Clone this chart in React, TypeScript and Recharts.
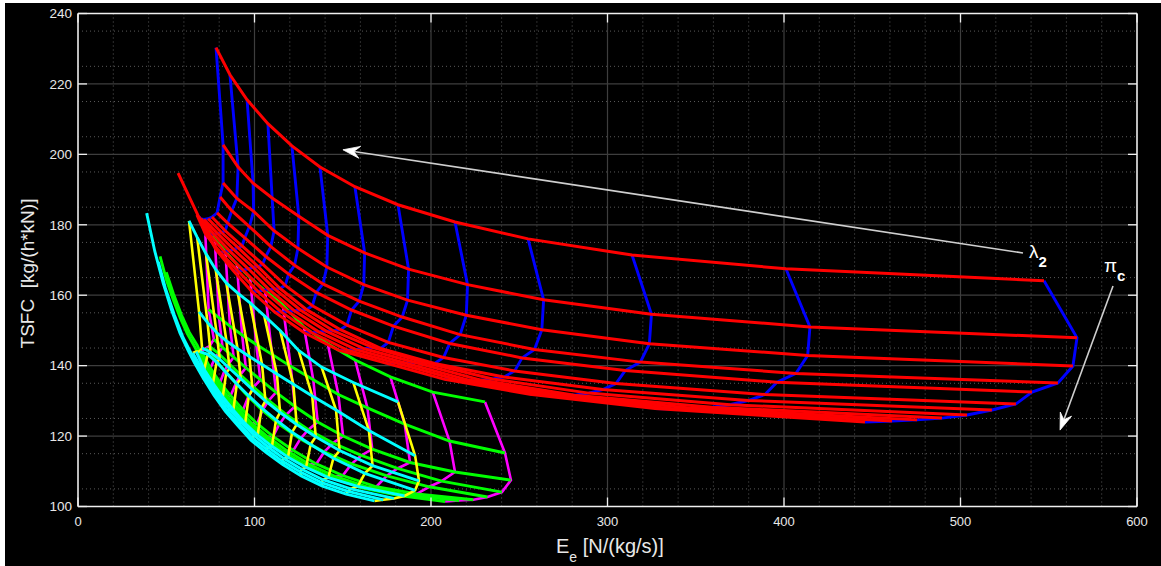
import React from "react";
import { LineChart, Line, XAxis, YAxis, CartesianGrid, ReferenceLine } from "recharts";

// axes
const xTicks = [0, 100, 200, 300, 400, 500, 600];
const yTicks = [100, 120, 140, 160, 180, 200, 220, 240];
const xMinor = [20, 40, 60, 80, 120, 140, 160, 180, 220, 240, 260, 280, 320, 340, 360, 380, 420, 440, 460, 480, 520, 540, 560, 580];
const yMinor = [105, 110, 115, 125, 130, 135, 145, 150, 155, 165, 170, 175, 185, 190, 195, 205, 210, 215, 225, 230, 235];

// upper carpet: red rows (lambda2), blue columns (pi_c) -- specific thrust E
const redE = [
  [78.2, 86.1, 95.8, 107.6, 121.2, 137.1, 156.9, 181.3, 213.6, 255.0, 313.9, 401.1, 547.3],
  [82.2, 90.7, 99.2, 110.0, 125.1, 141.5, 162.4, 187.3, 220.7, 263.8, 324.9, 414.7, 566.0],
  [82.2, 90.0, 99.5, 111.1, 124.6, 141.0, 161.9, 186.7, 220.0, 262.8, 323.7, 413.4, 563.7],
  [80.5, 87.1, 97.1, 109.3, 122.7, 138.8, 159.3, 183.7, 216.5, 258.6, 318.6, 406.8, 555.2],
  [78.8, 84.8, 94.5, 106.4, 119.3, 135.0, 155.0, 178.7, 210.6, 251.6, 310.0, 396.0, 540.5],
  [75.9, 83.4, 92.9, 104.6, 117.4, 132.8, 152.4, 175.8, 207.1, 247.4, 304.8, 389.2, 531.4],
  [73.7, 81.3, 90.7, 102.0, 114.5, 129.5, 148.7, 171.5, 202.0, 241.4, 297.3, 379.7, 517.8],
  [71.4, 79.1, 88.2, 99.3, 111.4, 126.0, 144.6, 166.8, 196.6, 234.9, 289.3, 369.4, 503.7],
  [69.7, 76.9, 85.8, 96.5, 108.3, 122.5, 140.6, 162.2, 191.1, 228.3, 281.3, 359.2, 489.5],
  [68.6, 74.6, 83.1, 93.6, 105.0, 118.8, 136.3, 157.2, 185.3, 221.4, 272.7, 348.2, 475.4],
  [67.4, 72.4, 80.7, 90.8, 101.9, 115.3, 132.3, 152.6, 179.8, 214.8, 264.6, 337.9, 461.2],
  [56.7, 70.5, 78.1, 87.9, 98.6, 111.5, 128.0, 147.6, 173.9, 207.8, 256.0, 326.9, 445.9],
];
// upper carpet -- TSFC
const redT = [
  [230.3, 222.6, 215.5, 208.7, 202.4, 196.4, 190.8, 185.7, 180.8, 176.0, 171.4, 167.5, 164.1],
  [202.7, 196.4, 191.8, 187.6, 182.4, 177.0, 172.0, 167.4, 163.0, 158.7, 154.6, 151.0, 147.9],
  [191.9, 187.5, 183.8, 178.3, 173.3, 168.0, 163.0, 158.6, 154.3, 150.2, 146.2, 142.9, 139.9],
  [187.9, 184.0, 179.5, 173.8, 168.5, 163.2, 158.3, 153.8, 148.8, 144.6, 141.0, 137.8, 135.1],
  [183.4, 180.5, 176.3, 171.0, 166.0, 160.8, 155.8, 151.2, 146.3, 142.2, 138.6, 135.3, 132.5],
  [182.2, 178.3, 174.0, 168.8, 162.8, 157.0, 151.5, 146.6, 142.3, 138.5, 134.9, 131.8, 129.1],
  [181.7, 177.8, 173.5, 168.1, 161.9, 155.9, 150.2, 144.9, 140.6, 136.8, 133.2, 130.1, 127.4],
  [181.5, 177.5, 173.0, 167.9, 161.8, 155.8, 149.9, 145.2, 140.9, 136.2, 132.2, 128.9, 126.0],
  [181.7, 177.3, 172.6, 167.5, 161.6, 155.6, 149.8, 144.8, 140.9, 135.9, 131.6, 128.2, 125.1],
  [182.2, 177.2, 172.3, 167.1, 161.4, 155.4, 149.6, 144.6, 140.8, 135.9, 131.6, 127.9, 124.6],
  [182.8, 177.2, 172.1, 166.8, 161.1, 155.2, 149.4, 144.4, 140.8, 136.0, 131.7, 127.7, 124.3],
  [194.7, 180.0, 173.0, 167.0, 161.0, 155.2, 149.4, 144.4, 140.8, 136.1, 131.9, 127.8, 124.0],
];

// small carpet: cyan rows, yellow columns
const cyanE = [
  [62.9, 67.5, 72.5, 78.0, 84.0, 90.5, 97.5, 105.5, 114.5, 125.0, 138.0, 156.0, 181.3],
  [68.6, 73.4, 78.5, 84.1, 90.4, 97.1, 104.3, 112.7, 122.0, 132.7, 146.2, 164.8, 191.0],
  [70.3, 75.1, 80.3, 85.9, 92.2, 98.9, 106.2, 114.5, 123.9, 134.7, 148.2, 166.9, 193.2],
  [69.0, 73.5, 78.5, 84.0, 90.0, 96.8, 104.0, 112.2, 121.3, 131.8, 144.7, 162.5, 191.0],
  [67.0, 71.5, 76.5, 82.0, 88.0, 94.7, 101.8, 109.9, 119.0, 129.2, 141.8, 158.5, 185.0],
  [65.0, 69.5, 74.5, 80.0, 86.0, 92.5, 99.7, 107.7, 116.7, 126.8, 138.8, 154.5, 179.0],
  [45.5, 67.7, 72.7, 78.3, 84.5, 91.3, 98.6, 106.8, 115.7, 126.0, 138.0, 153.0, 173.0],
  [38.9, 66.0, 71.0, 77.0, 83.5, 90.5, 98.0, 106.5, 116.0, 126.5, 138.5, 152.0, 168.0],
];
const cyanT = [
  [181.1, 176.5, 171.8, 167.3, 163.5, 160.6, 157.8, 154.2, 150.0, 144.3, 139.6, 135.2, 129.7],
  [155.3, 152.2, 149.4, 147.0, 144.8, 142.6, 140.3, 137.6, 134.7, 131.4, 127.4, 121.6, 114.4],
  [145.0, 143.8, 141.8, 139.2, 136.3, 133.2, 130.0, 126.7, 123.3, 119.8, 115.9, 111.6, 107.3],
  [144.0, 143.2, 141.0, 138.0, 134.8, 131.4, 128.0, 124.6, 121.1, 117.6, 113.7, 109.4, 104.6],
  [144.0, 138.9, 135.0, 131.1, 127.4, 123.6, 120.3, 117.1, 114.0, 111.1, 108.2, 105.7, 103.0],
  [143.6, 139.7, 135.5, 131.4, 127.5, 123.9, 120.2, 116.9, 113.6, 110.6, 107.6, 105.0, 102.3],
  [169.5, 140.2, 135.9, 131.6, 127.3, 123.5, 119.5, 116.2, 112.9, 109.8, 106.8, 104.3, 101.9],
  [183.3, 140.8, 136.4, 131.6, 127.0, 123.0, 118.8, 115.4, 111.9, 108.7, 105.8, 103.5, 101.6],
];
// extra points between the first and second column of the long lower rows
const cyanLeadE = [[], [], [], [], [], [], [49.5, 54.5, 59.5, 64.0], [43.5, 48.3, 53.0, 57.8, 62.5]];
const cyanLeadT = [[], [], [], [], [], [], [162.0, 154.5, 148.0, 143.6], [172.5, 163.4, 155.8, 149.2, 144.2]];

// small carpet: green rows, magenta columns
const greenE = [
  [72.0, 77.5, 83.5, 90.0, 97.5, 106.0, 116.0, 128.0, 141.5, 157.0, 177.0, 201.0, 230.6],
  [74.0, 79.9, 86.1, 93.0, 101.0, 109.9, 120.5, 133.3, 147.5, 164.0, 185.1, 210.5, 241.9],
  [77.0, 81.9, 88.2, 95.1, 103.3, 112.2, 122.9, 135.8, 150.2, 166.7, 188.1, 213.6, 245.3],
  [74.5, 79.5, 85.5, 92.0, 99.5, 108.0, 118.0, 130.5, 144.5, 160.5, 181.0, 206.0, 240.2],
  [72.5, 77.5, 83.0, 89.5, 96.5, 104.5, 114.0, 126.0, 139.5, 155.0, 175.0, 199.0, 232.0],
  [70.0, 75.0, 80.5, 86.5, 93.5, 101.5, 110.5, 122.0, 135.0, 150.0, 169.0, 192.0, 224.0],
  [50.0, 73.0, 78.5, 84.5, 91.0, 98.5, 107.5, 118.5, 131.0, 145.5, 164.0, 186.0, 216.0],
  [46.5, 71.5, 77.0, 83.0, 89.5, 97.0, 105.5, 116.0, 128.0, 142.0, 160.0, 181.0, 208.0],
];
const greenT = [
  [179.1, 175.8, 172.4, 168.8, 165.0, 161.3, 157.3, 151.0, 146.2, 141.6, 136.8, 132.5, 129.7],
  [156.0, 153.6, 151.2, 148.7, 146.0, 143.2, 139.8, 136.0, 131.8, 128.0, 123.4, 118.6, 115.2],
  [147.5, 145.2, 142.4, 139.4, 136.0, 132.4, 128.4, 124.0, 120.0, 116.3, 112.5, 109.8, 107.5],
  [145.5, 143.5, 140.6, 137.4, 133.9, 130.1, 126.1, 121.8, 118.0, 114.5, 110.8, 107.2, 104.1],
  [145.0, 142.0, 138.6, 135.0, 131.2, 127.3, 123.3, 119.2, 115.5, 112.1, 108.7, 105.6, 102.7],
  [144.0, 139.3, 135.2, 131.5, 127.4, 123.5, 119.9, 115.9, 112.1, 108.8, 105.6, 103.6, 101.9],
  [166.5, 139.6, 135.6, 131.4, 127.7, 123.6, 119.8, 115.8, 112.0, 108.6, 105.5, 103.3, 101.7],
  [171.0, 139.9, 135.6, 131.4, 127.6, 123.5, 119.7, 115.7, 112.0, 108.5, 105.4, 103.2, 101.4],
];
const greenLeadE = [[], [], [], [], [], [], [54.0, 58.5, 63.0, 67.5], [50.0, 54.0, 58.0, 62.0, 66.5]];
const greenLeadT = [[], [], [], [], [], [], [160.5, 154.5, 149.5, 145.8], [164.5, 158.7, 153.5, 149.0, 145.0]];
const noLead: number[][] = [];

// annotation arrows (tail -> head)
const lambdaArrow = [{ x: 535.4, y: 172.0 }, { x: 150.1, y: 201.3 }];
const piArrow = [{ x: 586.4, y: 162.6 }, { x: 556.4, y: 121.7 }];

type Pt = { x: number; y: number };

function rowPts(E: number[][], T: number[][], leadE: number[][], leadT: number[][], i: number): Pt[] {
  const pts: Pt[] = [{ x: E[i][0], y: T[i][0] }];
  (leadE[i] || []).forEach((e, k) => pts.push({ x: e, y: leadT[i][k] }));
  for (let j = 1; j < E[i].length; j++) pts.push({ x: E[i][j], y: T[i][j] });
  return pts;
}

// first column skips the rows that start far out on the left
function colPts(E: number[][], T: number[][], j: number, leadE: number[][], lastRedRow: boolean): Pt[] {
  const pts: Pt[] = [];
  E.forEach((row, i) => {
    if (j === 0 && ((leadE[i] && leadE[i].length > 0) || (lastRedRow && i === E.length - 1))) return;
    pts.push({ x: row[j], y: T[i][j] });
  });
  return pts;
}

const FONT = "'Liberation Sans', Arial, Helvetica, sans-serif";
const TXT = "#e8e8e8";
const W = 2.6;

function arrowShape(kind: "lambda" | "pi") {
  return (p: any) => {
    const { x1, y1, x2, y2 } = p;
    const dx = x2 - x1;
    const dy = y2 - y1;
    const len = Math.sqrt(dx * dx + dy * dy) || 1;
    const ux = dx / len;
    const uy = dy / len;
    const nx = -uy;
    const ny = ux;
    const bx = x2 - ux * 17;
    const by = y2 - uy * 17;
    const kx = x2 - ux * 11;
    const ky = y2 - uy * 11;
    const head = `M${x2},${y2} L${bx + nx * 6},${by + ny * 6} L${kx},${ky} L${bx - nx * 6},${by - ny * 6} Z`;
    return (
      <g>
        <line x1={x1} y1={y1} x2={kx} y2={ky} stroke="#cfcfcf" strokeWidth={1.6} />
        <path d={head} fill="#ffffff" stroke="#ffffff" strokeWidth={0.8} />
        {kind === "lambda" ? (
          <text x={x1 + 6} y={y1 + 5} fill="#ffffff" fontFamily={FONT} fontSize={19}>
            λ<tspan dy={9} fontSize={15} fontWeight="bold">2</tspan>
          </text>
        ) : (
          <text x={x1 - 9} y={y1 - 14} fill="#ffffff" fontFamily={FONT} fontSize={19}>
            π<tspan dy={9} fontSize={15} fontWeight="bold">c</tspan>
          </text>
        )}
      </g>
    );
  };
}

export default function App() {
  const tickLenY = (140 * 9) / 493;
  const tickLenX = (600 * 9) / 1059;
  const nCols = redE[0].length;
  const cols = Array.from({ length: nCols }, (_, j) => j);

  return (
    <div style={{ position: "absolute", left: 0, top: 0, width: 1161, height: 566, background: "#ffffff" }}>
      <div style={{ position: "absolute", left: 5, top: 3, width: 1156, height: 563, background: "#000000" }} />
      <div style={{ position: "absolute", left: 0, top: 0 }}>
        <LineChart width={1161} height={566} margin={{ top: 13.5, right: 24, left: 8, bottom: 19.5 }}>
          <CartesianGrid verticalValues={xMinor} horizontalValues={yMinor} stroke="#5a5a5a" strokeDasharray="1 3" />
          <CartesianGrid verticalValues={xTicks} horizontalValues={yTicks} stroke="#3e3e3e" strokeWidth={1.2} />
          <XAxis
            dataKey="x"
            type="number"
            domain={[0, 600]}
            ticks={xTicks}
            allowDataOverflow
            height={40}
            tickLine={false}
            tickSize={6}
            tickMargin={4}
            axisLine={{ stroke: "#f0f0f0", strokeWidth: 1.5 }}
            tick={{ fill: TXT, fontSize: 13, fontFamily: FONT }}
          />
          <YAxis
            type="number"
            domain={[100, 240]}
            ticks={yTicks}
            allowDataOverflow
            width={70}
            tickLine={false}
            tickSize={4}
            tickMargin={2}
            axisLine={{ stroke: "#f0f0f0", strokeWidth: 1.5 }}
            tick={{ fill: TXT, fontSize: 13.5, fontFamily: FONT }}
          />

          {cols.map((j) => (
            <Line key={`m${j}`} data={colPts(greenE, greenT, j, greenLeadE, false)} dataKey="y" stroke="#ff00ff"
              strokeWidth={W} dot={false} activeDot={false} isAnimationActive={false} />
          ))}
          {greenE.map((_, i) => (
            <Line key={`g${i}`} data={rowPts(greenE, greenT, greenLeadE, greenLeadT, i)} dataKey="y" stroke="#00ff00"
              strokeWidth={W + 0.3} dot={false} activeDot={false} isAnimationActive={false} />
          ))}
          {cols.map((j) => (
            <Line key={`yl${j}`} data={colPts(cyanE, cyanT, j, cyanLeadE, false)} dataKey="y" stroke="#ffff00"
              strokeWidth={W} dot={false} activeDot={false} isAnimationActive={false} />
          ))}
          {cyanE.map((_, i) => (
            <Line key={`c${i}`} data={rowPts(cyanE, cyanT, cyanLeadE, cyanLeadT, i)} dataKey="y" stroke="#00ffff"
              strokeWidth={W + 0.3} dot={false} activeDot={false} isAnimationActive={false} />
          ))}
          {cols.map((j) => (
            <Line key={`b${j}`} data={colPts(redE, redT, j, noLead, true)} dataKey="y" stroke="#0000ff"
              strokeWidth={W + 0.3} dot={false} activeDot={false} isAnimationActive={false} />
          ))}
          {redE.map((_, i) => (
            <Line key={`r${i}`} data={rowPts(redE, redT, noLead, noLead, i)} dataKey="y" stroke="#ff0000"
              strokeWidth={W + 0.4} dot={false} activeDot={false} isAnimationActive={false} />
          ))}

          <ReferenceLine segment={lambdaArrow} shape={arrowShape("lambda")} />
          <ReferenceLine segment={piArrow} shape={arrowShape("pi")} />

          {xTicks.map((v) => (
            <ReferenceLine key={`xb${v}`} segment={[{ x: v, y: 100 }, { x: v, y: 100 + tickLenY }]} stroke="#f0f0f0" strokeWidth={1.3} />
          ))}
          {xTicks.map((v) => (
            <ReferenceLine key={`xt${v}`} segment={[{ x: v, y: 240 }, { x: v, y: 240 - tickLenY }]} stroke="#f0f0f0" strokeWidth={1.3} />
          ))}
          {yTicks.map((v) => (
            <ReferenceLine key={`yl${v}`} segment={[{ x: 0, y: v }, { x: tickLenX, y: v }]} stroke="#f0f0f0" strokeWidth={1.3} />
          ))}
          {yTicks.map((v) => (
            <ReferenceLine key={`yr${v}`} segment={[{ x: 600, y: v }, { x: 600 - tickLenX, y: v }]} stroke="#f0f0f0" strokeWidth={1.3} />
          ))}
          <ReferenceLine y={240} stroke="#f0f0f0" strokeWidth={1.5} />
          <ReferenceLine x={600} stroke="#f0f0f0" strokeWidth={1.5} />
        </LineChart>
      </div>
      <svg width={1161} height={566} style={{ position: "absolute", left: 0, top: 0, pointerEvents: "none" }}>
        <text x={556} y={553} fill={TXT} fontFamily={FONT} fontSize={20}>
          E<tspan dy={9} fontSize={14}>e</tspan>
          <tspan dy={-9}> [N/(kg/s)]</tspan>
        </text>
        <text
          transform="translate(34,273.5) rotate(-90)"
          textAnchor="middle"
          fill={TXT}
          fontFamily={FONT}
          fontSize={19}
          style={{ whiteSpace: "pre" }}
        >
          {"TSFC  [kg/(h*kN)]"}
        </text>
      </svg>
    </div>
  );
}
